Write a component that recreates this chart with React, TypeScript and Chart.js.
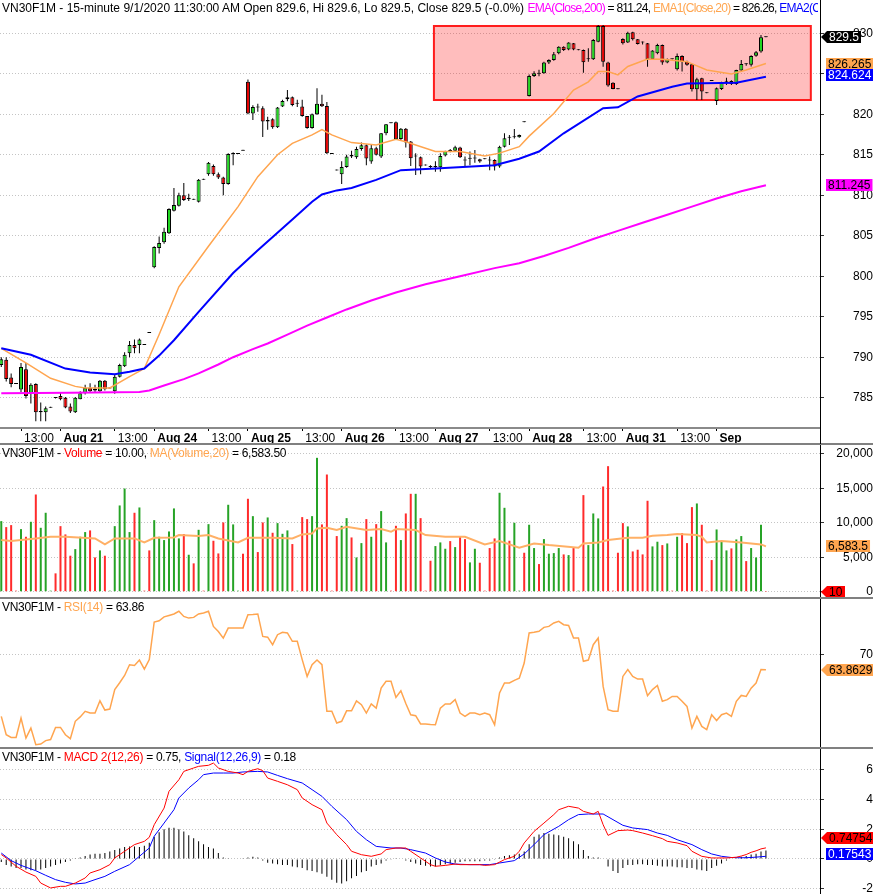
import React, { useEffect, useRef } from 'react';
import { Chart, registerables } from 'chart.js';

Chart.register(...registerables);

const FONT = '"Liberation Sans", Arial, Helvetica, sans-serif';

// ---------------- data (15-minute bars, index 0..155) ----------------
const OPEN = [
  789.05, 789.7, 787.5, 786.8, 786.0, 788.5, 785.55, 786.7, 783.2, 783.2,
  783.75, 785.05, 785.2, 785.0, 783.9, 783.2, 784.8, 785.55, 786.2, 786.1,
  785.8, 787.1, 786.15, 785.8, 787.6, 788.9, 790.5, 791.5, 791.5, 791.55,
  793.05, 801.1, 803.5, 804.2, 805.3, 808.1, 808.7, 810.0, 809.5, 809.5,
  809.2, 811.95, 812.6, 813.6, 812.6, 812.2, 811.4, 815.1, 815.1, 815.55,
  824.0, 820.1, 820.95, 820.75, 819.1, 819.4, 818.4, 820.95, 821.85, 822.1,
  821.3, 820.95, 819.8, 818.3, 820.0, 821.3, 821.03, 815.15, 813.1, 812.6,
  813.5, 815.0, 814.7, 815.7, 816.17, 814.16, 815.8, 814.77, 817.65, 818.95,
  819.0, 816.95, 818.2, 816.63, 814.77, 814.7, 813.7, 813.6, 813.5, 813.46,
  814.9, 815.5, 815.5, 815.9, 814.3, 814.5, 814.55, 814.44, 814.46, 814.3,
  814.36, 813.54, 816.0, 817.16, 817.16, 817.16, 819.05, 822.26, 824.73, 825.1,
  825.06, 826.38, 826.7, 827.53, 828.35, 828.0, 828.77, 827.9, 827.94, 826.79,
  826.79, 828.97, 830.9, 826.38, 823.9, 823.15, 829.3, 828.85, 830.12, 829.26,
  828.87, 828.77, 826.83, 827.53, 828.56, 826.38, 826.8, 825.56, 827.2, 826.5,
  826.17, 823.09, 824.44, 822.65, 824.15, 821.65, 823.13, 824.03, 824.1, 823.74,
  825.4, 826.2, 826.1, 827.24, 827.74, 829.6,
];
const HIGH = [
  790.0, 790.0, 788.0, 786.8, 789.3, 789.3, 786.8, 786.8, 784.4, 783.9,
  783.8, 785.1, 785.7, 785.1, 784.3, 785.1, 785.8, 786.6, 786.8, 786.6,
  787.2, 787.2, 786.2, 787.8, 789.2, 790.6, 792.0, 792.2, 792.3, 791.55,
  793.05, 803.7, 804.9, 806.0, 808.4, 810.9, 810.3, 811.5, 810.2, 809.5,
  812.0, 811.95, 814.1, 813.8, 812.8, 812.3, 815.2, 815.3, 815.15, 815.55,
  824.3, 821.1, 821.3, 821.0, 819.7, 819.5, 820.9, 821.8, 823.0, 822.2,
  821.8, 821.8, 819.8, 820.1, 823.2, 822.4, 821.5, 815.15, 813.1, 814.2,
  815.0, 815.5, 816.0, 816.5, 816.3, 816.2, 816.0, 817.7, 818.8, 818.95,
  819.1, 818.3, 818.3, 816.7, 815.2, 814.77, 813.7, 813.7, 814.2, 815.2,
  815.5, 815.7, 816.1, 816.0, 814.77, 815.4, 815.6, 814.5, 814.46, 814.77,
  814.44, 816.1, 817.65, 817.45, 818.19, 817.5, 819.05, 824.9, 825.3, 825.5,
  826.5, 826.8, 827.7, 828.4, 828.4, 828.9, 828.8, 827.94, 828.0, 828.15,
  829.3, 831.03, 831.03, 826.5, 823.95, 823.15, 829.4, 830.2, 830.2, 829.3,
  829.0, 828.8, 827.9, 828.7, 828.6, 826.9, 826.85, 827.5, 827.3, 826.6,
  826.2, 824.5, 824.5, 822.65, 824.15, 823.3, 824.0, 824.5, 824.2, 825.5,
  826.7, 826.3, 827.3, 827.8, 829.8, 829.6,
];
const LOW = [
  788.8, 787.0, 786.3, 786.7, 785.7, 784.9, 784.3, 782.1, 782.1, 782.1,
  783.75, 784.9, 784.7, 783.7, 783.1, 783.1, 784.8, 785.4, 785.6, 785.7,
  785.7, 785.9, 786.15, 785.5, 787.5, 788.8, 790.0, 790.5, 790.5, 791.5,
  793.0, 801.0, 802.8, 804.0, 805.2, 808.0, 808.6, 809.3, 809.3, 809.45,
  809.1, 811.9, 812.4, 812.4, 812.0, 810.0, 811.3, 813.7, 815.1, 815.5,
  820.0, 819.3, 820.3, 817.2, 818.1, 818.2, 818.3, 820.9, 821.6, 821.0,
  820.9, 819.7, 818.2, 818.2, 819.9, 820.9, 815.1, 815.1, 813.05, 811.4,
  813.4, 814.6, 814.5, 815.5, 813.7, 813.9, 814.9, 814.6, 817.4, 818.9,
  816.9, 816.8, 815.9, 813.6, 812.5, 812.6, 813.66, 813.3, 812.9, 812.9,
  814.8, 815.3, 815.4, 814.6, 813.54, 813.7, 814.0, 814.0, 814.44, 813.1,
  813.05, 813.4, 815.9, 816.2, 817.0, 817.1, 819.0, 822.2, 824.6, 824.7,
  825.0, 826.2, 826.6, 827.4, 827.8, 827.9, 827.9, 827.9, 825.14, 826.5,
  826.7, 828.9, 825.88, 823.4, 823.1, 823.1, 828.6, 828.8, 829.1, 828.6,
  828.6, 825.88, 826.7, 827.4, 826.1, 826.3, 826.75, 825.4, 825.27, 826.0,
  822.8, 821.77, 821.77, 822.6, 824.1, 821.15, 823.0, 823.6, 823.6, 823.6,
  825.3, 826.0, 825.9, 827.1, 827.6, 829.5,
];
const CLOSE = [
  789.75, 787.3, 786.7, 786.7, 788.8, 785.2, 786.6, 783.2, 783.35, 783.7,
  783.8, 784.95, 784.8, 783.8, 783.3, 785.0, 785.55, 786.2, 785.8, 785.9,
  787.1, 786.05, 786.2, 787.6, 789.05, 790.3, 791.5, 791.1, 792.2, 791.5,
  793.0, 803.6, 804.1, 805.5, 808.3, 808.8, 810.0, 809.4, 809.7, 809.45,
  811.9, 811.9, 814.0, 812.6, 812.2, 811.4, 815.1, 815.2, 815.15, 815.5,
  820.1, 820.9, 820.85, 819.1, 819.3, 818.4, 820.85, 821.65, 822.1, 821.15,
  821.36, 819.8, 818.3, 820.0, 821.3, 821.0, 815.2, 815.1, 813.05, 813.5,
  814.8, 814.77, 815.7, 816.17, 814.53, 815.8, 815.0, 817.65, 818.77, 818.9,
  816.95, 818.2, 816.5, 814.57, 814.86, 813.54, 813.66, 813.5, 813.6, 814.86,
  815.47, 815.45, 815.93, 814.7, 814.28, 814.57, 814.6, 814.16, 814.44, 814.28,
  813.54, 816.0, 817.04, 817.1, 817.2, 817.45, 819.0, 824.73, 825.06, 825.0,
  826.38, 826.7, 827.4, 828.35, 827.94, 828.85, 828.0, 827.94, 826.42, 826.83,
  829.18, 830.9, 826.5, 823.54, 823.13, 823.1, 828.77, 830.08, 829.26, 828.68,
  828.85, 826.79, 827.86, 828.56, 826.38, 826.79, 826.79, 827.2, 826.5, 826.1,
  823.09, 824.32, 822.8, 822.6, 824.1, 823.2, 823.95, 824.08, 823.74, 825.47,
  826.2, 826.17, 827.2, 827.65, 829.5, 829.5,
];
const VOLUME = [
  10240, 9370, 9660, 150, 9080, 7970, 10140, 14100, 9270, 11450,
  150, 2660, 9510, 8310, 5220, 6180, 7970, 8650, 8890, 4970,
  5990, 5220, 150, 9510, 12510, 14970, 8650, 11450, 12220, 150,
  5990, 10380, 7970, 7490, 8740, 12080, 7730, 8360, 5360, 4110,
  8980, 150, 9800, 7390, 5550, 10050, 12610, 9760, 150, 5510,
  13480, 10960, 5750, 10050, 10770, 8550, 9950, 8400, 8890, 6910,
  150, 10820, 10530, 10960, 19420, 9760, 17000, 150, 8070, 9560,
  10670, 7870, 4970, 7050, 10530, 7970, 9800, 11690, 7150, 150,
  9560, 7490, 11350, 14200, 14200, 10670, 150, 4490, 6620, 7150,
  6230, 7340, 6470, 7970, 7630, 4250, 6230, 4200, 150, 6330,
  7730, 14350, 12170, 7390, 10000, 150, 5650, 9710, 6330, 4010,
  7630, 5510, 5600, 6330, 5410, 5310, 6330, 150, 14010, 6760,
  11350, 10630, 15260, 18210, 150, 5650, 9950, 9470, 5840, 6090,
  5410, 13190, 6570, 7250, 6760, 7000, 150, 7970, 8500, 7050,
  12270, 12800, 9710, 150, 4590, 9030, 7290, 5990, 6280, 7580,
  8070, 4440, 6330, 4970, 9710, 10,
];

// Time-axis labels (bar index where each label sits)
const X_TICK_AT = [4, 12, 23, 31, 42, 50, 61, 69, 80, 88, 99, 107, 118, 126, 137, 145];
const X_TICK_LABEL = ['13:00', 'Aug 21', '13:00', 'Aug 24', '13:00', 'Aug 25', '13:00', 'Aug 26', '13:00', 'Aug 27', '13:00', 'Aug 28', '13:00', 'Aug 31', '13:00', 'Sep'];

// Moving averages on price, sampled at bar indices
const EMA200_AT = [0, 14, 28, 30, 33, 37, 40, 44, 47, 51, 54, 58, 62, 66, 70, 75, 80, 86, 93, 100, 105, 110, 115, 120, 125, 130, 135, 140, 145, 150, 155];
const EMA200 = [785.55, 785.6, 785.7, 785.9, 786.5, 787.3, 788.0, 789.1, 790.0, 791.0, 791.7, 792.8, 793.9, 794.9, 795.9, 797.0, 798.0, 799.0, 800.0, 801.0, 801.6, 802.5, 803.5, 804.6, 805.6, 806.6, 807.6, 808.6, 809.6, 810.5, 811.24];
const EMA50_AT = [0, 6, 13, 18, 23, 26, 29, 32, 35, 40, 47, 52, 59, 63, 65, 68, 71, 76, 81, 88, 100, 105, 109, 114, 122, 125, 129, 136, 139, 149, 155];
const EMA50 = [791.1, 790.3, 788.6, 788.1, 787.9, 788.2, 788.6, 790.2, 792.1, 795.6, 800.4, 803.2, 807.0, 809.2, 810.1, 810.6, 810.9, 811.9, 813.1, 813.3, 813.7, 814.5, 815.4, 817.65, 820.74, 820.86, 822.2, 823.4, 823.8, 823.9, 824.62];
const EMA20_AT = [0, 5, 10, 15, 17, 22, 26, 29, 32, 36, 42, 48, 52, 56, 59, 63, 65, 67, 71, 76, 80, 82, 88, 93, 98, 101, 105, 107, 112, 116, 119, 121, 123, 125, 127, 131, 134, 139, 143, 148, 151, 155];
const EMA20 = [791.1, 789.3, 787.4, 786.4, 786.2, 786.2, 787.6, 788.6, 792.8, 798.7, 803.7, 808.6, 812.3, 815.0, 816.4, 817.45, 818.1, 817.45, 816.5, 816.2, 816.9, 816.6, 815.4, 815.4, 814.86, 815.2, 816.0, 817.3, 820.1, 823.0, 824.0, 825.27, 825.27, 824.86, 825.9, 826.83, 826.79, 826.5, 825.47, 824.98, 825.47, 826.26];

// MA(Volume,20)
const VOL_MA_AT = [0, 2, 7, 10, 13, 19, 21, 23, 27, 29, 31, 35, 36, 40, 42, 44, 48, 50, 55, 59, 61, 63, 64, 66, 68, 70, 74, 77, 79, 80, 84, 86, 90, 94, 98, 101, 105, 108, 111, 117, 118, 121, 123, 127, 130, 132, 135, 137, 141, 142, 143, 146, 150, 154, 155];
const VOL_MA = [7490, 7340, 7730, 7970, 7970, 7730, 6860, 7730, 7730, 7150, 7820, 7870, 8210, 8070, 8210, 7730, 7150, 7820, 7820, 7730, 8310, 8450, 9180, 9270, 8940, 9420, 8940, 9080, 8690, 9080, 8940, 8210, 7970, 7970, 6860, 7340, 6380, 7000, 6760, 6380, 7000, 7150, 7490, 7820, 7820, 8110, 8210, 8360, 8210, 7970, 7150, 7340, 7150, 6860, 6583.5];

// RSI(14), one value per bar
const RSI = [
  44.7, 37.2, 36.1, 36.1, 44.0, 35.8, 39.9, 33.1, 33.4, 34.8, 35.2, 40.2, 40.2, 37.2, 35.6, 42.7, 44.5, 46.8, 46.1, 46.1, 51.1, 47.3, 47.7, 55.7, 58.5, 61.5, 65.9, 65.6, 67.8, 64.1,
  68.0, 83.4, 83.9, 85.5, 86.1, 86.7, 87.8, 85.7, 85.0, 85.3, 86.7, 87.1, 87.8, 81.6, 79.5, 76.8, 80.9, 80.9, 80.9, 80.9, 86.4, 86.5, 86.7, 77.5, 77.2, 74.1, 78.2, 79.2, 78.9, 75.5,
  75.5, 68.0, 61.1, 65.9, 67.8, 65.9, 46.8, 46.8, 42.0, 42.7, 47.0, 47.0, 51.1, 49.5, 46.1, 49.8, 48.1, 56.3, 59.1, 59.1, 52.5, 55.2, 50.0, 45.4, 45.0, 41.6, 41.6, 41.4, 41.3, 48.1,
  49.8, 49.8, 51.6, 46.1, 44.7, 46.1, 46.1, 45.4, 46.1, 45.4, 41.3, 54.3, 58.4, 58.4, 59.5, 60.4, 66.6, 78.9, 79.2, 79.6, 81.2, 81.6, 83.0, 83.7, 82.3, 82.0, 76.8, 76.8, 67.3, 67.8,
  74.1, 76.8, 57.0, 47.5, 46.8, 46.8, 61.1, 63.9, 61.1, 60.0, 60.0, 53.2, 55.7, 57.4, 50.9, 51.6, 52.9, 52.9, 50.9, 48.8, 39.9, 44.7, 40.6, 39.3, 45.4, 43.0, 45.4, 46.1, 44.7, 50.9,
  53.3, 52.9, 56.3, 58.4, 63.9, 63.86,
];

// MACD 2(12,26) and Signal(12,26,9)
const MACD_AT = [0, 1, 3, 5, 7, 8, 10, 12, 13, 15, 17, 18, 20, 22, 23, 25, 27, 29, 30, 31, 33, 34, 36, 37, 39, 40, 42, 43, 44, 46, 48, 49, 50, 52, 53, 54, 56, 58, 60, 61, 63, 65, 66, 68, 70, 71, 73, 75, 77, 78, 80, 82, 83, 85, 87, 88, 90, 92, 93, 95, 97, 98, 100, 102, 104, 105, 106, 108, 110, 112, 113, 115, 117, 118, 120, 121, 122, 123, 125, 127, 128, 130, 132, 134, 135, 137, 139, 140, 142, 144, 145, 147, 149, 150, 151, 152, 153, 154, 155];
const MACD = [0.3, 0.07, -0.49, -0.88, -1.17, -1.62, -1.95, -1.84, -1.84, -1.62, -1.28, -0.94, -0.72, -0.38, 0.07, 0.52, 0.97, 1.19, 1.46, 2.31, 3.43, 4.56, 5.34, 5.9, 6.13, 6.24, 6.31, 6.46, 6.13, 5.9, 5.79, 5.68, 5.9, 6.08, 5.95, 5.45, 5.23, 5.0, 4.67, 4.11, 3.66, 3.32, 2.42, 1.64, 0.97, 0.52, 0.29, 0.18, 0.34, 0.63, 0.74, 0.74, 0.52, 0.07, -0.38, -0.49, -0.43, -0.34, -0.38, -0.38, -0.38, -0.43, -0.38, -0.04, 0.18, 0.52, 1.08, 1.86, 2.42, 2.99, 3.32, 3.55, 3.43, 3.21, 3.03, 3.21, 2.31, 1.59, 1.91, 1.95, 1.91, 1.75, 1.57, 1.37, 1.19, 1.08, 0.9, 0.52, 0.18, 0.07, 0.07, 0.07, 0.12, 0.2, 0.3, 0.45, 0.55, 0.68, 0.75];
const SIGNAL_AT = [0, 2, 4, 7, 9, 11, 13, 15, 17, 19, 21, 23, 26, 28, 30, 31, 33, 35, 36, 38, 40, 41, 43, 45, 47, 49, 52, 54, 56, 58, 61, 63, 65, 67, 70, 72, 74, 76, 79, 81, 83, 86, 88, 90, 92, 95, 97, 99, 101, 104, 106, 108, 110, 113, 115, 117, 119, 122, 124, 126, 128, 131, 133, 135, 137, 140, 142, 144, 146, 148, 150, 152, 155];
const SIGNAL = [0.4, -0.11, -0.43, -0.79, -1.1, -1.39, -1.57, -1.68, -1.62, -1.39, -1.17, -0.83, -0.38, 0.18, 0.74, 1.53, 2.42, 3.32, 4.11, 4.78, 5.34, 5.68, 5.79, 5.79, 5.79, 5.86, 5.9, 5.86, 5.63, 5.41, 5.12, 4.67, 4.22, 3.55, 2.65, 1.86, 1.3, 0.85, 0.74, 0.74, 0.63, 0.4, 0.07, -0.2, -0.34, -0.38, -0.38, -0.38, -0.27, -0.11, 0.34, 0.97, 1.64, 2.2, 2.65, 2.99, 3.03, 3.03, 2.65, 2.27, 2.09, 1.98, 1.75, 1.59, 1.3, 0.97, 0.63, 0.34, 0.18, 0.1, 0.08, 0.1, 0.18];
const HIST = [
  -0.2, -0.4, -0.5, -0.6, -0.6, -0.7, -0.75, -0.75, -0.7, -0.6,
  -0.5, -0.4, -0.3, -0.2, -0.1, 0.05, 0.1, 0.2, 0.3, 0.35,
  0.35, 0.4, 0.5, 0.6, 0.7, 0.8, 0.85, 0.85, 0.8, 0.9,
  1.1, 1.5, 1.8, 2.0, 2.1, 2.1, 2.0, 1.85, 1.6, 1.4,
  1.2, 1.0, 0.8, 0.7, 0.4, 0.1, 0.05, 0.0, 0.0, 0.05,
  0.1, 0.15, 0.1, -0.1, -0.25, -0.3, -0.35, -0.4, -0.4, -0.5,
  -0.55, -0.6, -0.75, -0.8, -0.9, -1.0, -1.2, -1.4, -1.6, -1.65,
  -1.5, -1.3, -1.15, -0.9, -0.8, -0.5, -0.4, -0.3, -0.1, -0.05,
  0.05, 0.0, -0.1, -0.2, -0.3, -0.4, -0.45, -0.5, -0.5, -0.4,
  -0.35, -0.3, -0.25, -0.2, -0.15, -0.15, -0.15, -0.15, -0.1, -0.1,
  -0.05, 0.1, 0.2, 0.25, 0.3, 0.35, 0.5, 1.0, 1.5, 1.65,
  1.75, 1.7, 1.65, 1.6, 1.5, 1.4, 1.2, 1.0, 0.6, 0.2,
  0.1, 0.1, 0.0, -0.5, -0.8, -0.95, -0.6, -0.4, -0.4, -0.35,
  -0.35, -0.4, -0.4, -0.45, -0.5, -0.5, -0.5, -0.55, -0.55, -0.6,
  -0.6, -0.7, -0.75, -0.8, -0.6, -0.45, -0.3, -0.1, 0.0, 0.05,
  0.15, 0.2, 0.3, 0.35, 0.5, 0.57,
];

// Axis ticks / ranges
const PRICE_TICKS = [785, 790, 795, 800, 805, 810, 815, 820, 825, 830];
const VOLUME_TICKS = [0, 5000, 10000, 15000, 20000];
const RSI_TICKS = [70];
const MACD_TICKS = [-2, 0, 2, 4, 6];

// Drawn zone (rectangle) in bar index / price units
const ZONE_FROM = 87.7;
const ZONE_TO = 164.1;
const ZONE_HIGH = 830.9;
const ZONE_LOW = 821.76;

// --------------- view settings ----------------
const X_MIN = -0.26;
const X_MAX = 165.96;
const UP = '#22d822';
const DOWN = '#e80000';
const VOL_UP = '#26a326';
const VOL_DOWN = '#ff2b2b';
const ORANGE = '#ffa54f';

const BARS = OPEN.map((_, i) => i);
const isUp = (i: number) => CLOSE[i] >= OPEN[i];
const pts = (at: number[], v: number[]) => at.map((x, i) => ({ x, y: v[i] }));

function widestText(texts: string[]) {
  const c = document.createElement('canvas').getContext('2d')!;
  c.font = `12px ${FONT}`;
  return Math.max(...texts.map((t) => c.measureText(t).width));
}

function xAxis(show: boolean) {
  return {
    type: 'linear',
    min: X_MIN,
    max: X_MAX,
    offset: false,
    display: show,
    afterBuildTicks: (s: any) => {
      s.ticks = X_TICK_AT.map((v) => ({ value: v }));
    },
    afterFit: (s: any) => {
      if (show) s.height = 16;
      s.paddingLeft = 0;
      s.paddingRight = 0;
    },
    grid: { display: true, offset: false, drawOnChartArea: false, drawTicks: true, tickLength: 3, tickColor: '#000', tickWidth: 1 },
    border: { display: true, color: '#8a8a8a', width: 2 },
    ticks: {
      autoSkip: false,
      maxRotation: 0,
      minRotation: 0,
      align: 'start',
      labelOffset: 3,
      padding: 0,
      color: '#000',
      font: (ctx: any) => ({ family: FONT, size: 12, weight: (X_TICK_LABEL[ctx.index] || '').startsWith('13') ? 'normal' : 'bold' }),
      callback: (_v: any, i: number) => X_TICK_LABEL[i],
    },
  };
}

function yAxis(min: number, max: number, tickValues: number[], fmt: (v: number) => string) {
  const widest = widestText(tickValues.map(fmt));
  return {
    type: 'linear',
    position: 'right',
    min,
    max,
    afterBuildTicks: (s: any) => {
      s.ticks = tickValues.map((v) => ({ value: v }));
    },
    afterFit: (s: any) => {
      s.width = 53;
      s.paddingTop = 0;
      s.paddingBottom = 0;
    },
    grid: { color: '#c4c4c4', lineWidth: 1, drawTicks: true, tickLength: 4, tickColor: '#333', tickWidth: 1 },
    border: { display: true, color: '#000', width: 1, dash: [1, 2] },
    ticks: {
      color: '#000',
      font: { family: FONT, size: 12 },
      crossAlign: 'far',
      padding: Math.max(0, 869 - 820 - 4 - widest),
      callback: (v: number) => fmt(v),
    },
  };
}

type VLabel = { value: number; text: string; bg: string; fg: string; arrow?: boolean; dy?: number };

function valueLabels(labels: VLabel[]) {
  return {
    id: 'valueLabels',
    afterDraw(chart: any) {
      const { ctx } = chart;
      const ys = chart.scales.y;
      ctx.save();
      ctx.font = `12px ${FONT}`;
      ctx.textBaseline = 'middle';
      ctx.textAlign = 'left';
      labels.forEach((l) => {
        const cy = Math.round(ys.getPixelForValue(l.value) + (l.dy || 0));
        const tw = ctx.measureText(l.text).width;
        const h = 12;
        const left = l.arrow ? 827 : 826;
        const w = Math.max(tw + 4, 18);
        ctx.fillStyle = l.bg;
        ctx.beginPath();
        if (l.arrow) {
          ctx.moveTo(821, cy);
          ctx.lineTo(left, cy - h / 2);
        } else {
          ctx.moveTo(left, cy - h / 2);
        }
        ctx.lineTo(left + w, cy - h / 2);
        ctx.lineTo(left + w, cy + h / 2);
        ctx.lineTo(left, cy + h / 2);
        ctx.closePath();
        ctx.fill();
        ctx.fillStyle = l.fg;
        ctx.fillText(l.text, left + 2, cy + 1);
      });
      ctx.restore();
    },
  };
}

const zonePlugin = {
  id: 'zone',
  beforeDatasetsDraw(chart: any) {
    const { ctx, scales } = chart;
    const x0 = scales.x.getPixelForValue(ZONE_FROM);
    const x1 = scales.x.getPixelForValue(ZONE_TO);
    const y0 = scales.y.getPixelForValue(ZONE_HIGH);
    const y1 = scales.y.getPixelForValue(ZONE_LOW);
    ctx.save();
    ctx.fillStyle = 'rgba(255,0,0,0.26)';
    ctx.fillRect(x0, y0, x1 - x0, y1 - y0);
    ctx.strokeStyle = '#ff1c1c';
    ctx.lineWidth = 2;
    ctx.strokeRect(x0, y0, x1 - x0, y1 - y0);
    ctx.restore();
  },
};

function baseOptions(scales: any) {
  return {
    responsive: false,
    maintainAspectRatio: false,
    animation: false,
    devicePixelRatio: 1,
    events: [],
    layout: { padding: 0 },
    plugins: { legend: { display: false }, tooltip: { enabled: false }, title: { display: false } },
    scales,
  };
}

const lineDs = (data: any[], color: string, width: number, order = 0) => ({
  type: 'line',
  data,
  borderColor: color,
  borderWidth: width,
  pointRadius: 0,
  tension: 0,
  fill: false,
  order,
});

function priceConfig(): any {
  return {
    type: 'line',
    data: {
      datasets: [
        lineDs(pts(EMA200_AT, EMA200), '#ff00ff', 2, 0),
        lineDs(pts(EMA50_AT, EMA50), '#0000ff', 2, 0),
        lineDs(pts(EMA20_AT, EMA20), ORANGE, 1.5, 0),
        {
          type: 'bar',
          data: BARS.map((i) => ({ x: i, y: [OPEN[i], CLOSE[i]] })),
          backgroundColor: BARS.map((i) => (isUp(i) ? UP : DOWN)),
          borderColor: '#000',
          borderWidth: 1,
          borderSkipped: false,
          barThickness: 4,
          minBarLength: 1,
          grouped: false,
          inflateAmount: 0,
          order: 1,
        },
        {
          type: 'bar',
          data: BARS.map((i) => ({ x: i, y: [LOW[i], HIGH[i]] })),
          backgroundColor: '#000',
          borderWidth: 0,
          barThickness: 1,
          minBarLength: 1,
          grouped: false,
          inflateAmount: 0,
          order: 2,
        },
      ],
    },
    options: baseOptions({
      x: xAxis(true),
      y: yAxis(781.26, 834.11, PRICE_TICKS, (v) => String(v)),
    }),
    plugins: [
      zonePlugin,
      valueLabels([
        { value: 829.5, text: '829.5', bg: '#000', fg: '#fff', arrow: true },
        { value: 826.265, text: '826.265', bg: ORANGE, fg: '#000' },
        { value: 824.624, text: '824.624', bg: '#0000ff', fg: '#fff', dy: -2 },
        { value: 811.245, text: '811.245', bg: '#ff00ff', fg: '#000' },
      ]),
    ],
  };
}

function volumeConfig(): any {
  return {
    type: 'line',
    data: {
      datasets: [
        lineDs(pts(VOL_MA_AT, VOL_MA), '#ffb066', 2, 0),
        {
          type: 'bar',
          data: BARS.map((i) => ({ x: i, y: VOLUME[i] })),
          backgroundColor: BARS.map((i) => (isUp(i) ? VOL_UP : VOL_DOWN)),
          borderWidth: 0,
          barThickness: 2,
          grouped: false,
          inflateAmount: 0,
          order: 1,
        },
      ],
    },
    options: baseOptions({
      x: xAxis(false),
      y: yAxis(-914, 21426, VOLUME_TICKS, (v) => v.toLocaleString('en-US')),
    }),
    plugins: [
      valueLabels([
        { value: 6583.5, text: '6,583.5', bg: ORANGE, fg: '#000' },
        { value: 10, text: '10', bg: '#ff0000', fg: '#000', arrow: true },
      ]),
    ],
  };
}

function rsiConfig(): any {
  return {
    type: 'line',
    data: { datasets: [lineDs(pts(BARS, RSI), ORANGE, 1.5, 0)] },
    options: baseOptions({
      x: xAxis(false),
      y: yAxis(31.76, 93.24, RSI_TICKS, (v) => String(v)),
    }),
    plugins: [valueLabels([{ value: 63.8629, text: '63.8629', bg: ORANGE, fg: '#000', arrow: true }])],
  };
}

function macdConfig(): any {
  return {
    type: 'line',
    data: {
      datasets: [
        lineDs(pts(MACD_AT, MACD), '#ff0000', 1, 0),
        lineDs(pts(SIGNAL_AT, SIGNAL), '#0000ff', 1, 0),
        {
          type: 'bar',
          data: BARS.map((i) => ({ x: i, y: HIST[i] })),
          backgroundColor: '#000',
          borderWidth: 0,
          barThickness: 1,
          grouped: false,
          inflateAmount: 0,
          order: 1,
        },
      ],
    },
    options: baseOptions({
      x: xAxis(false),
      y: yAxis(-2.357, 7.475, MACD_TICKS, (v) => String(v)),
    }),
    plugins: [
      valueLabels([
        { value: 0.74754, text: '0.74754', bg: '#ff0000', fg: '#000', arrow: true, dy: -10 },
        { value: 0.17543, text: '0.17543', bg: '#0000ff', fg: '#fff', dy: -2 },
      ]),
    ],
  };
}

type Part = [string, string, number?];
const Header = ({ top, parts, spacing = 0 }: { top: number; parts: Part[]; spacing?: number }) => (
  <div
    style={{
      position: 'absolute',
      left: 2,
      top,
      width: 816,
      overflow: 'hidden',
      whiteSpace: 'nowrap',
      fontFamily: FONT,
      fontSize: 12,
      lineHeight: '14px',
      color: '#000',
      letterSpacing: `${spacing}px`,
      pointerEvents: 'none',
    }}
  >
    {parts.map(([t, c, ls], i) => (
      <span key={i} style={ls !== undefined ? { color: c, letterSpacing: `${ls}px` } : { color: c }}>
        {t}
      </span>
    ))}
  </div>
);

const Line = ({ top, left = 0, width = 873, height = 2, color = '#808080' }: any) => (
  <div style={{ position: 'absolute', top, left, width, height, background: color }} />
);

export default function App() {
  const priceRef = useRef<HTMLCanvasElement>(null);
  const volRef = useRef<HTMLCanvasElement>(null);
  const rsiRef = useRef<HTMLCanvasElement>(null);
  const macdRef = useRef<HTMLCanvasElement>(null);

  useEffect(() => {
    document.body.style.margin = '0';
    const charts: Chart[] = [];
    charts.push(new Chart(priceRef.current!, priceConfig()));
    charts.push(new Chart(volRef.current!, volumeConfig()));
    charts.push(new Chart(rsiRef.current!, rsiConfig()));
    charts.push(new Chart(macdRef.current!, macdConfig()));
    return () => charts.forEach((c) => c.destroy());
  }, []);

  const cv = (top: number): React.CSSProperties => ({ position: 'absolute', left: 0, top, display: 'block' });

  return (
    <div style={{ position: 'relative', width: 873, height: 894, background: '#fff', overflow: 'hidden', fontFamily: FONT }}>
      <canvas ref={priceRef} width={873} height={444} style={cv(0)} />
      <canvas ref={volRef} width={873} height={154} style={cv(444)} />
      <canvas ref={rsiRef} width={873} height={150} style={cv(598)} />
      <canvas ref={macdRef} width={873} height={146} style={cv(748)} />

      <Line top={443} />
      <Line top={597} />
      <Line top={747} />
      <Line top={428} left={820} width={1} height={16} color="#000" />

      <Header
        top={1}
        parts={[
          ['VN30F1M - 15-minute 9/1/2020 11:30:00 AM Open 829.6, Hi 829.6, Lo 829.5, Close 829.5 (-0.0%) ', '#000'],
          ['EMA(Close,200)', '#ff00ff', -0.75],
          [' = 811.24, ', '#000', -0.75],
          ['EMA1(Close,20)', ORANGE, -0.75],
          [' = 826.26, ', '#000', -0.75],
          ['EMA2(Close,50)', '#0000ff', -0.75],
          [' = 824.62', '#000', -0.75],
        ]}
      />
      <Header
        top={446}
        spacing={-0.28}
        parts={[
          ['VN30F1M - ', '#000'],
          ['Volume', '#ff0000'],
          [' = 10.00, ', '#000'],
          ['MA(Volume,20)', ORANGE],
          [' = 6,583.50', '#000'],
        ]}
      />
      <Header
        top={600}
        spacing={-0.3}
        parts={[
          ['VN30F1M - ', '#000'],
          ['RSI(14)', ORANGE],
          [' = 63.86', '#000'],
        ]}
      />
      <Header
        top={750}
        spacing={-0.3}
        parts={[
          ['VN30F1M - ', '#000'],
          ['MACD 2(12,26)', '#ff0000'],
          [' = 0.75, ', '#000'],
          ['Signal(12,26,9)', '#0000ff'],
          [' = 0.18', '#000'],
        ]}
      />
    </div>
  );
}
